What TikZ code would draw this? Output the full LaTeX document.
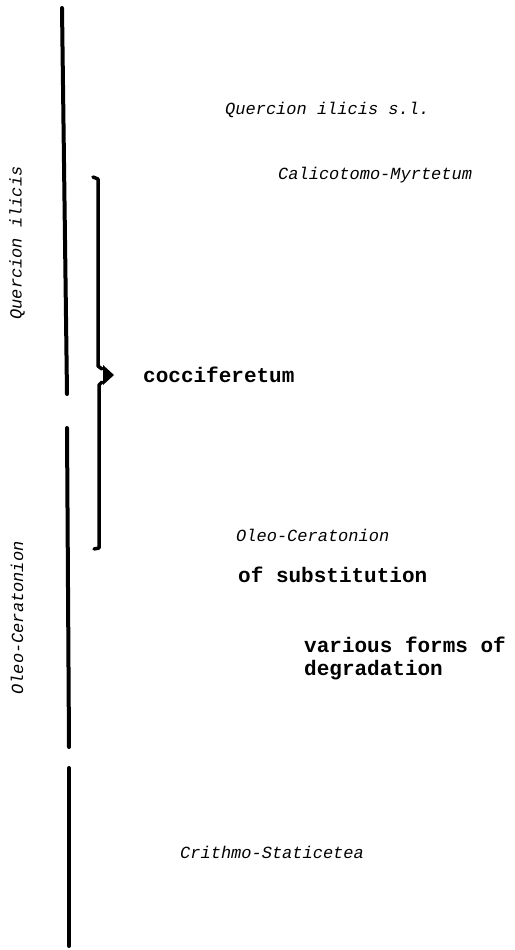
\documentclass[tikz,border=0pt]{standalone}
\usepackage{fontspec}
\setmonofont{Liberation Mono}
\begin{document}
\begin{tikzpicture}[x=1pt,y=-1pt,
    bar/.style={line width=4pt,line cap=round},
    unit/.style={font=\ttfamily\itshape\fontsize{17}{18}\selectfont,anchor=west,inner sep=0pt},
    note/.style={font=\ttfamily\bfseries\fontsize{21}{23}\selectfont,anchor=west,inner sep=0pt,align=left}]
    \useasboundingbox (0,0) rectangle (514,950);
    % vertical bars on the left
    \draw[bar] (62,8) -- (67,394);
    \draw[bar] (67,428) -- (69,747);
    \draw[bar] (69,768) -- (69,946);
    \node[unit,anchor=center,rotate=90] (qi) at (17,243) {Quercion ilicis};
    \node[unit,anchor=center,rotate=90] (oc) at (17,618) {Oleo-Ceratonion};
    % brace
    \draw[line width=3.5pt,line cap=round,line join=round] (93,177) -- (98,179) -- (98,366) -- (102,369);
    \draw[line width=3.5pt,line cap=round,line join=round] (102,382) -- (99,385) -- (99,548) -- (94,549);
    \fill (103,365) -- (114,375) -- (103,385) -- cycle;
    % labels
    \node[unit] (qsl) at (225,110) {Quercion ilicis s.l.};
    \node[unit] (cm) at (278,175) {Calicotomo-Myrtetum};
    \node[note] (coc) at (143,375) {cocciferetum};
    \node[unit] (ocs) at (236,535) {Oleo-Ceratonion};
    \node[note] (sub) at (238,575) {of substitution};
    \node[note] (deg) at (304,658) {various forms of\\degradation};
    \node[unit] (cs) at (180,852) {Crithmo-Staticetea};
\end{tikzpicture}
\end{document}
